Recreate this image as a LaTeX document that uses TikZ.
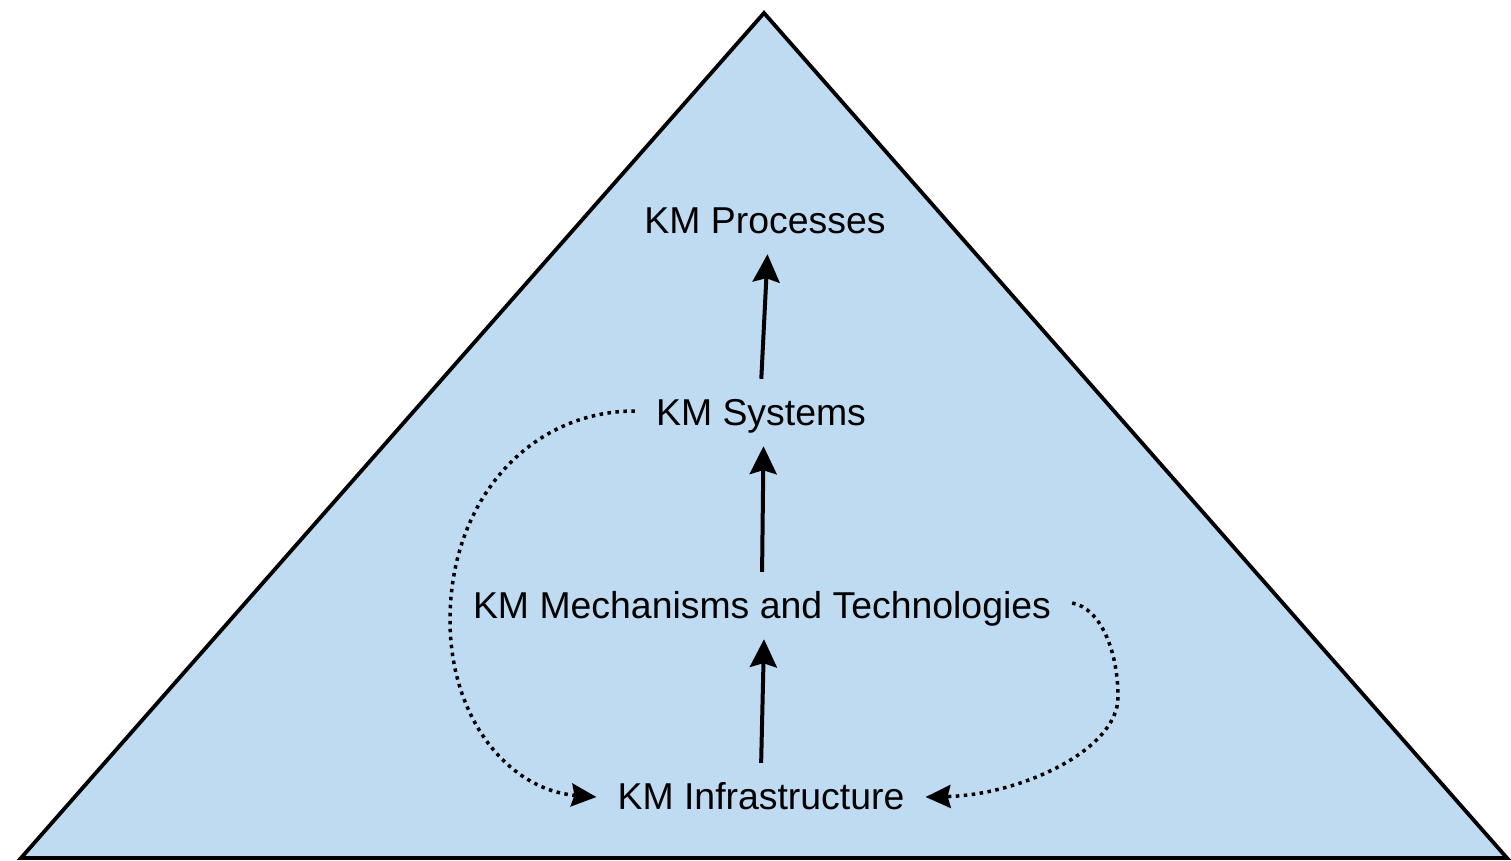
\documentclass[tikz,border=0pt]{standalone}
\usepackage{fontspec}
\setmainfont{Liberation Sans}
\usetikzlibrary{arrows.meta}
\definecolor{pyr}{RGB}{191,219,241}
\begin{document}
\begin{tikzpicture}[x=1pt,y=-1pt,
  lbl/.style={font=\fontsize{37.4}{44}\selectfont, text height=27pt, text depth=8pt,
    inner xsep=21pt, inner ysep=13pt, anchor=base},
  solidarr/.style={line width=4pt, shorten <=6pt,
    -{Stealth[length=28pt,width=27pt,inset=4pt]}},
  dotarr/.style={line width=3.5pt, dash pattern=on 3.5pt off 4.5pt,
    -{Stealth[length=25pt,width=23pt,inset=3pt]}}]
\useasboundingbox (0,0) rectangle (1511,861);
\draw[line width=3.8pt, fill=pyr] (764,13) -- (1507,858) -- (21,858) -- cycle;

\node[lbl] (proc)  at (765,233) {KM Processes};
\node[lbl] (sys)   at (761,425) {KM Systems};
\node[lbl] (mech)  at (762,618) {KM Mechanisms and Technologies};
\node[lbl] (infra) at (761,809) {KM Infrastructure};

\draw[solidarr] (infra.north) -- ([xshift=2pt]mech.south);
\draw[solidarr] (mech.north) -- ([xshift=2.5pt]sys.south);
\draw[solidarr] (sys.north) -- ([xshift=2.5pt]proc.south);

\draw[dotarr] ([yshift=4.5pt]sys.west) .. controls (530,411) and (450,500) .. (450,620)
  .. controls (450,720) and (510,790) .. ([yshift=2.5pt]infra.west);
\draw[dotarr] ([yshift=5.5pt]mech.east) .. controls (1100,608) and (1118,650) .. (1118,697)
  .. controls (1118,750) and (1020,795) .. ([yshift=2.5pt]infra.east);
\end{tikzpicture}
\end{document}
